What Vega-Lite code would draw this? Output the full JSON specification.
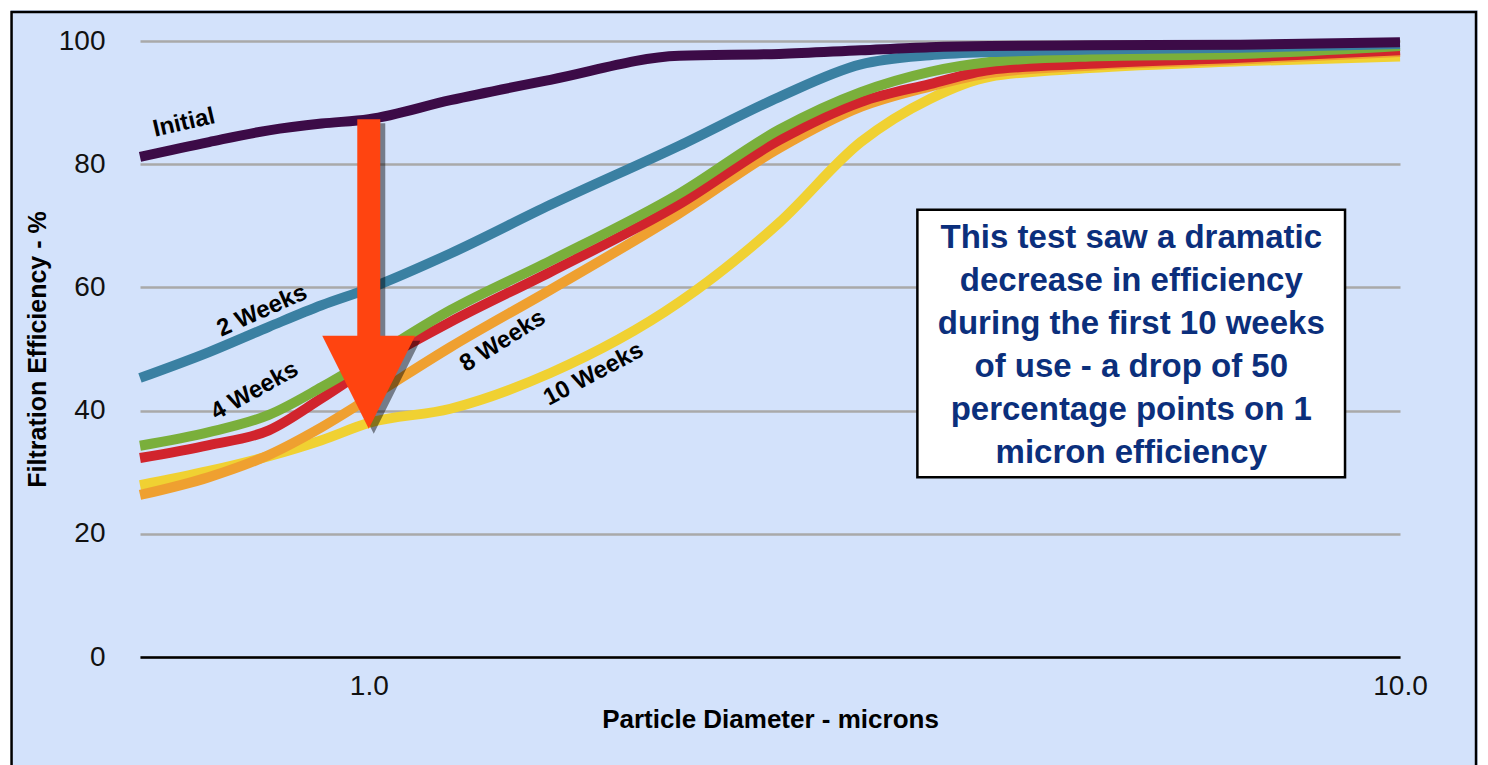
{
  "$schema": "https://vega.github.io/schema/vega-lite/v6.json",
  "width": 1260,
  "height": 616,
  "autosize": {"type": "none"},
  "padding": {"left": 140, "top": 41, "right": 88, "bottom": 108},
  "background": "#d3e2fb",
  "config": {"view": {"stroke": null}, "font": "Liberation Sans"},
  "datasets": {
    "curves": [
      {"series": "10 Weeks", "x": 0.6, "y": 27.9}, {"series": "10 Weeks", "x": 0.7, "y": 30.2}, {"series": "10 Weeks", "x": 0.8, "y": 32.6}, {"series": "10 Weeks", "x": 0.9, "y": 35.2}, {"series": "10 Weeks", "x": 1.0, "y": 38.0}, {"series": "10 Weeks", "x": 1.2, "y": 40.3}, {"series": "10 Weeks", "x": 1.5, "y": 46.1}, {"series": "10 Weeks", "x": 2.0, "y": 57.6}, {"series": "10 Weeks", "x": 2.5, "y": 70.5}, {"series": "10 Weeks", "x": 3.0, "y": 83.6}, {"series": "10 Weeks", "x": 3.5, "y": 90.6}, {"series": "10 Weeks", "x": 4.0, "y": 94.2}, {"series": "10 Weeks", "x": 5.0, "y": 95.6}, {"series": "10 Weeks", "x": 7.0, "y": 96.7}, {"series": "10 Weeks", "x": 10.0, "y": 97.5},
      {"series": "8 Weeks", "x": 0.6, "y": 26.3}, {"series": "8 Weeks", "x": 0.7, "y": 29.2}, {"series": "8 Weeks", "x": 0.8, "y": 32.8}, {"series": "8 Weeks", "x": 0.9, "y": 37.3}, {"series": "8 Weeks", "x": 1.0, "y": 42.0}, {"series": "8 Weeks", "x": 1.2, "y": 50.3}, {"series": "8 Weeks", "x": 1.5, "y": 59.6}, {"series": "8 Weeks", "x": 2.0, "y": 72.0}, {"series": "8 Weeks", "x": 2.5, "y": 82.6}, {"series": "8 Weeks", "x": 3.0, "y": 89.3}, {"series": "8 Weeks", "x": 3.5, "y": 92.6}, {"series": "8 Weeks", "x": 4.0, "y": 94.8}, {"series": "8 Weeks", "x": 5.0, "y": 96.0}, {"series": "8 Weeks", "x": 7.0, "y": 97.0}, {"series": "8 Weeks", "x": 10.0, "y": 98.2},
      {"series": "6 Weeks", "x": 0.6, "y": 32.3}, {"series": "6 Weeks", "x": 0.7, "y": 34.4}, {"series": "6 Weeks", "x": 0.8, "y": 36.8}, {"series": "6 Weeks", "x": 0.9, "y": 42.0}, {"series": "6 Weeks", "x": 1.0, "y": 47.0}, {"series": "6 Weeks", "x": 1.2, "y": 54.4}, {"series": "6 Weeks", "x": 1.5, "y": 62.5}, {"series": "6 Weeks", "x": 2.0, "y": 73.5}, {"series": "6 Weeks", "x": 2.5, "y": 83.9}, {"series": "6 Weeks", "x": 3.0, "y": 90.1}, {"series": "6 Weeks", "x": 3.5, "y": 93.0}, {"series": "6 Weeks", "x": 4.0, "y": 95.3}, {"series": "6 Weeks", "x": 5.0, "y": 96.3}, {"series": "6 Weeks", "x": 7.0, "y": 97.3}, {"series": "6 Weeks", "x": 10.0, "y": 98.5},
      {"series": "4 Weeks", "x": 0.6, "y": 34.3}, {"series": "4 Weeks", "x": 0.7, "y": 36.5}, {"series": "4 Weeks", "x": 0.8, "y": 39.3}, {"series": "4 Weeks", "x": 0.9, "y": 43.8}, {"series": "4 Weeks", "x": 1.0, "y": 48.3}, {"series": "4 Weeks", "x": 1.2, "y": 56.3}, {"series": "4 Weeks", "x": 1.5, "y": 64.3}, {"series": "4 Weeks", "x": 2.0, "y": 75.2}, {"series": "4 Weeks", "x": 2.5, "y": 85.6}, {"series": "4 Weeks", "x": 3.0, "y": 91.7}, {"series": "4 Weeks", "x": 3.5, "y": 95.0}, {"series": "4 Weeks", "x": 4.0, "y": 96.6}, {"series": "4 Weeks", "x": 5.0, "y": 97.5}, {"series": "4 Weeks", "x": 7.0, "y": 97.9}, {"series": "4 Weeks", "x": 10.0, "y": 99.2},
      {"series": "2 Weeks", "x": 0.6, "y": 45.3}, {"series": "2 Weeks", "x": 0.7, "y": 49.5}, {"series": "2 Weeks", "x": 0.8, "y": 53.6}, {"series": "2 Weeks", "x": 0.9, "y": 57.1}, {"series": "2 Weeks", "x": 1.0, "y": 59.8}, {"series": "2 Weeks", "x": 1.2, "y": 65.5}, {"series": "2 Weeks", "x": 1.5, "y": 73.4}, {"series": "2 Weeks", "x": 2.0, "y": 83.0}, {"series": "2 Weeks", "x": 2.5, "y": 90.9}, {"series": "2 Weeks", "x": 3.0, "y": 96.2}, {"series": "2 Weeks", "x": 3.5, "y": 97.7}, {"series": "2 Weeks", "x": 4.0, "y": 98.2}, {"series": "2 Weeks", "x": 5.0, "y": 98.6}, {"series": "2 Weeks", "x": 7.0, "y": 98.9}, {"series": "2 Weeks", "x": 10.0, "y": 99.5},
      {"series": "Initial", "x": 0.6, "y": 81.2}, {"series": "Initial", "x": 0.7, "y": 83.6}, {"series": "Initial", "x": 0.8, "y": 85.5}, {"series": "Initial", "x": 0.9, "y": 86.6}, {"series": "Initial", "x": 1.0, "y": 87.3}, {"series": "Initial", "x": 1.2, "y": 90.4}, {"series": "Initial", "x": 1.5, "y": 93.7}, {"series": "Initial", "x": 2.0, "y": 97.6}, {"series": "Initial", "x": 2.5, "y": 97.9}, {"series": "Initial", "x": 3.0, "y": 98.5}, {"series": "Initial", "x": 3.5, "y": 99.0}, {"series": "Initial", "x": 4.0, "y": 99.2}, {"series": "Initial", "x": 5.0, "y": 99.3}, {"series": "Initial", "x": 7.0, "y": 99.4}, {"series": "Initial", "x": 10.0, "y": 99.8}
    ]
  },
  "encoding": {
    "x": {
      "field": "x", "type": "quantitative",
      "scale": {"type": "log", "domain": [0.6, 10], "nice": false},
      "axis": {
        "title": "Particle Diameter - microns", "values": [1, 10], "format": ".1f",
        "grid": false, "ticks": false, "domainColor": "#000000", "domainWidth": 2.5,
        "labelFontSize": 28, "labelColor": "#111111", "labelPadding": 15, "labelFlush": false,
        "titleFontSize": 26, "titleFontWeight": "bold", "titleColor": "#000000", "titlePadding": 6
      }
    },
    "y": {
      "field": "y", "type": "quantitative",
      "scale": {"domain": [0, 100], "nice": false, "zero": false},
      "axis": {
        "title": "Filtration Efficiency - %", "values": [0, 20, 40, 60, 80, 100],
        "grid": true, "gridColor": "#a9a9a9", "gridWidth": 2.5, "domain": false, "ticks": false,
        "labelFontSize": 28, "labelColor": "#111111", "labelPadding": 35,
        "titleFontSize": 25, "titleFontWeight": "bold", "titleColor": "#000000", "titlePadding": 8
      }
    }
  },
  "layer": [
    {
      "data": {"values": [{"x": 0.4398, "x2": 12.17, "y": 106.66, "y2": -40}]},
      "mark": {"type": "rect", "filled": false, "stroke": "#ffffff", "strokeWidth": 20},
      "encoding": {"x2": {"field": "x2"}, "y2": {"field": "y2"}}
    },
    {
      "data": {"values": [{"x": 0.4504, "x2": 11.85, "y": 104.7, "y2": -40}]},
      "mark": {"type": "rect", "filled": false, "stroke": "#000000", "strokeWidth": 2.5},
      "encoding": {"x2": {"field": "x2"}, "y2": {"field": "y2"}}
    },
    {
      "data": {"name": "curves"},
      "mark": {"type": "line", "strokeWidth": 10, "interpolate": "monotone", "strokeCap": "butt"},
      "encoding": {
        "color": {
          "field": "series", "type": "nominal", "legend": null,
          "scale": {
            "domain": ["Initial", "2 Weeks", "4 Weeks", "6 Weeks", "8 Weeks", "10 Weeks"],
            "range": ["#3c0b47", "#3a80a2", "#7aaf3b", "#d1242d", "#efa030", "#f0d132"]
          }
        }
      }
    },
    {
      "data": {"values": [{"x": 1.0, "y": 87.3, "y2": 51.5}]},
      "mark": {"type": "rule", "color": "#000000", "opacity": 0.45, "strokeWidth": 23, "strokeCap": "butt", "xOffset": 5, "yOffset": 4},
      "encoding": {"y2": {"field": "y2"}}
    },
    {
      "data": {"values": [{"x": 1.0, "y": 44.6}]},
      "mark": {"type": "point", "shape": "M -1 -1 L 1 -1 L 0 1 Z", "size": 8650, "filled": true, "color": "#000000", "opacity": 0.45, "strokeWidth": 0, "xOffset": 5, "yOffset": 5},
      "encoding": {}
    },
    {
      "data": {"values": [{"x": 1.0, "y": 87.3, "y2": 51.5}]},
      "mark": {"type": "rule", "color": "#ff4410", "strokeWidth": 23, "strokeCap": "butt"},
      "encoding": {"y2": {"field": "y2"}}
    },
    {
      "data": {"values": [{"x": 1.0, "y": 44.6}]},
      "mark": {"type": "point", "shape": "M -1 -1 L 1 -1 L 0 1 Z", "size": 8650, "filled": true, "color": "#ff4410", "opacity": 1, "strokeWidth": 0},
      "encoding": {}
    },
    {
      "data": {"values": [{"x": 0.662, "y": 86.7, "label": "Initial"}]},
      "mark": {"type": "text", "angle": -13, "fontSize": 24, "fontWeight": "bold", "color": "#000000", "align": "center", "baseline": "middle"},
      "encoding": {"text": {"field": "label"}}
    },
    {
      "data": {"values": [{"x": 0.788, "y": 56.2, "label": "2 Weeks"}]},
      "mark": {"type": "text", "angle": -24, "fontSize": 24, "fontWeight": "bold", "color": "#000000", "align": "center", "baseline": "middle"},
      "encoding": {"text": {"field": "label"}}
    },
    {
      "data": {"values": [{"x": 0.775, "y": 43.2, "label": "4 Weeks"}]},
      "mark": {"type": "text", "angle": -29, "fontSize": 24, "fontWeight": "bold", "color": "#000000", "align": "center", "baseline": "middle"},
      "encoding": {"text": {"field": "label"}}
    },
    {
      "data": {"values": [{"x": 1.349, "y": 51.3, "label": "8 Weeks"}]},
      "mark": {"type": "text", "angle": -32, "fontSize": 24, "fontWeight": "bold", "color": "#000000", "align": "center", "baseline": "middle"},
      "encoding": {"text": {"field": "label"}}
    },
    {
      "data": {"values": [{"x": 1.652, "y": 45.9, "label": "10 Weeks"}]},
      "mark": {"type": "text", "angle": -28, "fontSize": 24, "fontWeight": "bold", "color": "#000000", "align": "center", "baseline": "middle"},
      "encoding": {"text": {"field": "label"}}
    },
    {
      "data": {"values": [{"x": 3.404, "x2": 8.845, "y": 72.6, "y2": 29.2}]},
      "mark": {"type": "rect", "fill": "#ffffff", "stroke": "#000000", "strokeWidth": 2.5},
      "encoding": {"x2": {"field": "x2"}, "y2": {"field": "y2"}}
    },
    {
      "data": {"values": [{"x": 5.488, "y": 68.0, "note": "This test saw a dramatic\ndecrease in efficiency\nduring the first 10 weeks\nof use - a drop of 50\npercentage points on 1\nmicron efficiency"}]},
      "mark": {"type": "text", "lineBreak": "\n", "lineHeight": 43, "fontSize": 33, "fontWeight": "bold", "color": "#0b2f7c", "align": "center", "baseline": "middle"},
      "encoding": {"text": {"field": "note"}}
    }
  ]
}
